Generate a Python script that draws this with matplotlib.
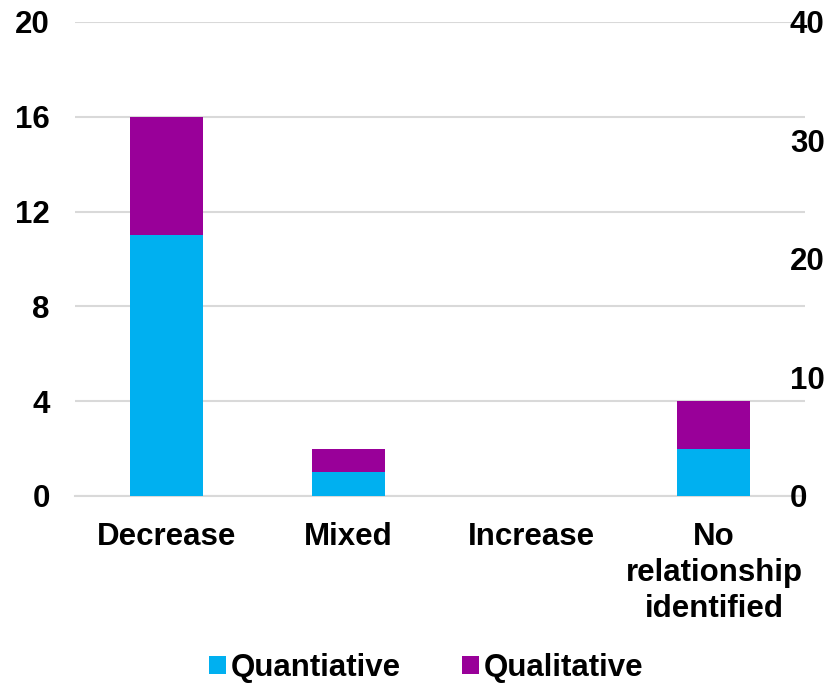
import matplotlib.pyplot as plt
import numpy as np

plt.rcParams['font.family'] = ['Liberation Sans', 'DejaVu Sans']
plt.rcParams['font.weight'] = 'bold'

categories = ['Decrease', 'Mixed', 'Increase', 'No\nrelationship\nidentified']
quantitative = [11, 1, 0, 2]
qualitative = [5, 1, 0, 2]
left_ticks = [0, 4, 8, 12, 16, 20]
right_ticks = [0, 10, 20, 30, 40]

fig = plt.figure(figsize=(8.31, 6.85), dpi=100)
ax = fig.add_axes([0.09, 0.276, 0.879, 0.692])

x = np.arange(len(categories))
ax.bar(x, quantitative, width=0.4, color='#00B0F0', label='Quantiative', zorder=3)
ax.bar(x, qualitative, width=0.4, bottom=quantitative, color='#990099',
       label='Qualitative', zorder=3)

ax.set_xlim(-0.5, len(categories) - 0.5)
ax.set_ylim(0, 20)
ax.set_yticks(left_ticks)
ax.yaxis.grid(True, color='#d9d9d9', linewidth=1.5, zorder=0)
ax.set_axisbelow(True)
for s in ['top', 'left', 'right']:
    ax.spines[s].set_visible(False)
ax.spines['bottom'].set_color('#d9d9d9')
ax.spines['bottom'].set_linewidth(1.5)
ax.set_xticks(x)
ax.set_xticklabels(categories, fontsize=22.5, fontweight='bold', linespacing=1.25)
ax.tick_params(axis='x', length=0, pad=19)
ax.tick_params(axis='y', length=0, labelsize=22.5, pad=18)

ax2 = ax.twinx()
ax2.set_ylim(0, 40)
ax2.set_yticks(right_ticks)
ax2.tick_params(axis='y', length=0, labelsize=22.5, pad=-11)
for s in ['top', 'left', 'right', 'bottom']:
    ax2.spines[s].set_visible(False)

ax.legend(loc='center', bbox_to_anchor=(0.481, -0.363), ncol=2, frameon=False,
          fontsize=22.5, handlelength=0.55, handleheight=0.55, handletextpad=0.15,
          columnspacing=1.95)

fig.savefig('out.png', dpi=100)
